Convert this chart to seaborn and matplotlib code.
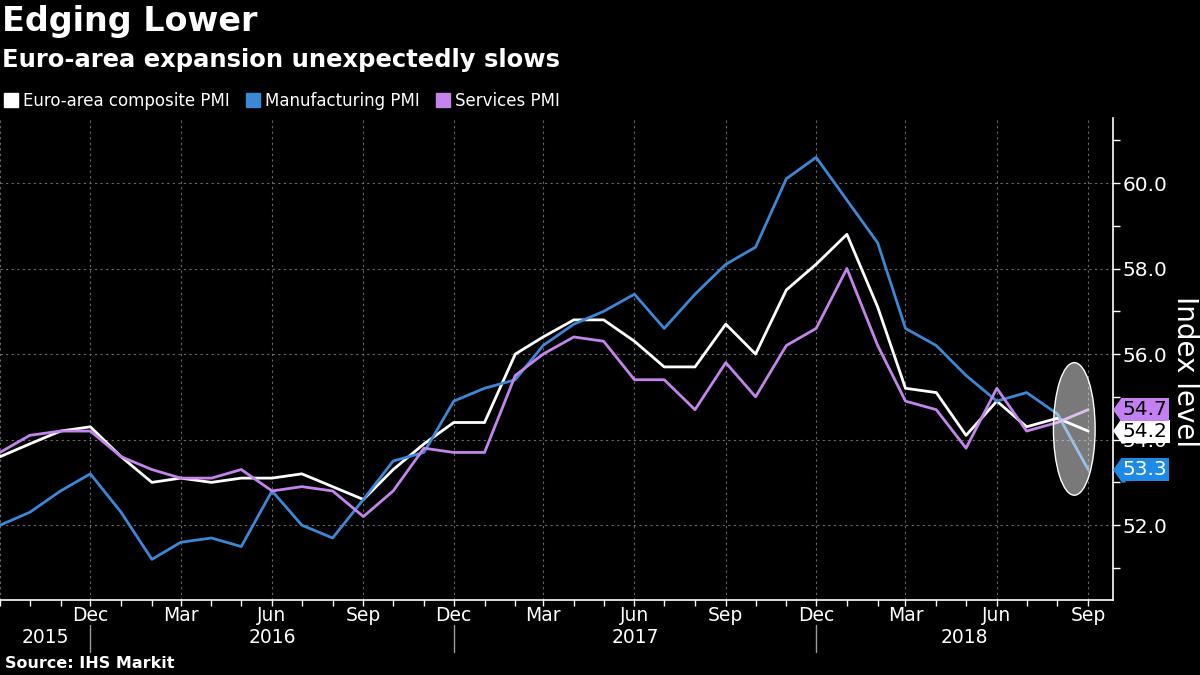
import matplotlib
matplotlib.use("Agg")
import matplotlib.pyplot as plt
import matplotlib.dates as mdates
import matplotlib.transforms as mtransforms
from matplotlib.patches import Ellipse
from matplotlib.lines import Line2D
from matplotlib.ticker import FuncFormatter
import numpy as np
import pandas as pd
import seaborn as sns

# ---------------- data ----------------
months = pd.date_range("2015-09-01", "2018-09-01", freq="MS")
composite = [53.6, 53.9, 54.2, 54.3,
             53.6, 53.0, 53.1, 53.0, 53.1, 53.1, 53.2, 52.9, 52.6, 53.3, 53.9, 54.4,
             54.4, 56.0, 56.4, 56.8, 56.8, 56.3, 55.7, 55.7, 56.7, 56.0, 57.5, 58.1,
             58.8, 57.1, 55.2, 55.1, 54.1, 54.9, 54.3, 54.5, 54.2]
manufacturing = [52.0, 52.3, 52.8, 53.2,
                 52.3, 51.2, 51.6, 51.7, 51.5, 52.8, 52.0, 51.7, 52.6, 53.5, 53.7, 54.9,
                 55.2, 55.4, 56.2, 56.7, 57.0, 57.4, 56.6, 57.4, 58.1, 58.5, 60.1, 60.6,
                 59.6, 58.6, 56.6, 56.2, 55.5, 54.9, 55.1, 54.6, 53.3]
services = [53.7, 54.1, 54.2, 54.2,
            53.6, 53.3, 53.1, 53.1, 53.3, 52.8, 52.9, 52.8, 52.2, 52.8, 53.8, 53.7,
            53.7, 55.5, 56.0, 56.4, 56.3, 55.4, 55.4, 54.7, 55.8, 55.0, 56.2, 56.6,
            58.0, 56.2, 54.9, 54.7, 53.8, 55.2, 54.2, 54.4, 54.7]
series_names = ["Euro-area composite PMI", "Manufacturing PMI", "Services PMI"]
y_ticks = [52, 54, 56, 58, 60]
y_tick_labels = ["52.0", "54.0", "56.0", "58.0", "60.0"]
years = ["2015", "2016", "2017", "2018"]

colors = {"Euro-area composite PMI": "#ffffff",
          "Manufacturing PMI": "#3a88d6",
          "Services PMI": "#c384ec"}
label_bg = {"Euro-area composite PMI": "#ffffff",
            "Manufacturing PMI": "#1f8ae6",
            "Services PMI": "#c47ff2"}
label_fg = {"Euro-area composite PMI": "#000000",
            "Manufacturing PMI": "#ffffff",
            "Services PMI": "#000000"}

df = pd.DataFrame({
    "date": np.tile(months, 3),
    "value": composite + manufacturing + services,
    "series": np.repeat(series_names, len(months)),
})

# ---------------- style ----------------
sns.set_theme(style="dark")
plt.rcParams["font.family"] = ["DejaVu Sans"]
plt.rcParams["axes.facecolor"] = "black"
plt.rcParams["figure.facecolor"] = "black"

fig = plt.figure(figsize=(12, 6.75), dpi=100)
ax = fig.add_axes([0.0, 1 - 600 / 675, 1113 / 1200, (600 - 118) / 675])
ax.set_facecolor("black")

sns.lineplot(data=df, x="date", y="value", hue="series", hue_order=series_names,
             palette=colors, linewidth=2, ax=ax, legend=False, zorder=3)

ax.set_xlim(pd.Timestamp("2015-09-01"), pd.Timestamp("2018-09-26"))
ax.set_ylim(50.25, 61.52)
ax.set_xlabel("")
ax.set_ylabel("")

# x axis
first_num = mdates.date2num(months[0])


def month_fmt(x, pos):
    if x <= first_num + 1:
        return ""
    return mdates.num2date(x).strftime("%b")


ax.xaxis.set_major_locator(mdates.MonthLocator(bymonth=[3, 6, 9, 12]))
ax.xaxis.set_major_formatter(FuncFormatter(month_fmt))
ax.xaxis.set_minor_locator(mdates.MonthLocator())
ax.tick_params(axis="x", which="both", direction="out", length=4, width=1,
               color="white", labelcolor="white", labelsize=13.5, pad=0.5,
               bottom=True)

# y axis on right
ax.yaxis.tick_right()
ax.set_yticks(y_ticks)
ax.set_yticklabels(y_tick_labels)
ax.set_yticks(np.arange(51, 62, 2), minor=True)
ax.tick_params(axis="y", which="both", direction="out", length=5, width=1,
               color="white", labelcolor="white", labelsize=14.5, pad=2,
               right=True, left=False)

for side in ["top", "left"]:
    ax.spines[side].set_visible(False)
for side in ["bottom", "right"]:
    ax.spines[side].set_visible(True)
    ax.spines[side].set_color("white")
    ax.spines[side].set_linewidth(1.2)

ax.grid(True, which="major", axis="both", color="#6a6a6a",
        linestyle=(0, (2, 3)), linewidth=0.8)
ax.set_axisbelow(True)

# highlight ellipse on the latest readings
ell = Ellipse((mdates.date2num(pd.Timestamp("2018-08-18")), 54.25),
              width=42, height=3.1, facecolor=(1, 1, 1, 0.48),
              edgecolor="white", linewidth=1, zorder=5)
ax.add_patch(ell)

# end-value labels
blend = mtransforms.blended_transform_factory(ax.transAxes, ax.transData)
arrow_marker = [(0, 0), (0.7, 1), (1.0, 1), (1.0, -1), (0.7, -1)]
for name, vals in zip(series_names, [composite, manufacturing, services]):
    v = vals[-1]
    ax.plot([1.0], [v], marker=arrow_marker, markersize=16.5, linestyle="none",
            color=label_bg[name], transform=blend, clip_on=False, zorder=8)
    ax.annotate(f"{v:.1f}", xy=(1.0, v), xycoords=blend, xytext=(7, 0),
                textcoords="offset points", ha="left", va="center",
                fontsize=14.5, color=label_fg[name], zorder=9, annotation_clip=False,
                bbox=dict(boxstyle="square,pad=0.1", fc=label_bg[name], ec="none"))

# year labels and separators
xl = ax.get_xlim()
seps = [mdates.date2num(pd.Timestamp(f"{y}-12-01")) for y in (2015, 2016, 2017)]
bounds = [xl[0]] + seps + [xl[1]]
bx = mtransforms.blended_transform_factory(ax.transData, ax.transAxes)
for s in seps:
    ax.plot([s, s], [-0.052, -0.108], color="#9a9a9a", linewidth=1,
            transform=bx, clip_on=False)
for i, yr in enumerate(years):
    ax.text((bounds[i] + bounds[i + 1]) / 2, -0.077, yr, transform=bx,
            ha="center", va="center", color="white", fontsize=13.5)

# titles, legend, source
fig.text(0.002, 1 - 22 / 675, "Edging Lower", color="white", fontsize=24,
         fontweight="bold", ha="left", va="center")
fig.text(0.002, 1 - 60 / 675, "Euro-area expansion unexpectedly slows",
         color="white", fontsize=17.5, fontweight="bold", ha="left", va="center")
handles = [Line2D([], [], marker="s", linestyle="none", markersize=10,
                  color=colors[n]) for n in series_names]
leg = fig.legend(handles, series_names, loc="center left",
                 bbox_to_anchor=(0.004, 1 - 101 / 675), ncol=3, frameon=False,
                 fontsize=12, handlelength=0.8, handletextpad=0.3,
                 columnspacing=1.0, borderaxespad=0, borderpad=0)
for t in leg.get_texts():
    t.set_color("white")
fig.text(1185 / 1200, 1 - 372 / 675, "Index level", color="white", fontsize=20,
         rotation=270, ha="center", va="center")
fig.text(0.004, 1 - 663 / 675, "Source: IHS Markit", color="white",
         fontsize=11.5, fontweight="bold", ha="left", va="center")

fig.savefig("out.png", dpi=100, facecolor="black")
